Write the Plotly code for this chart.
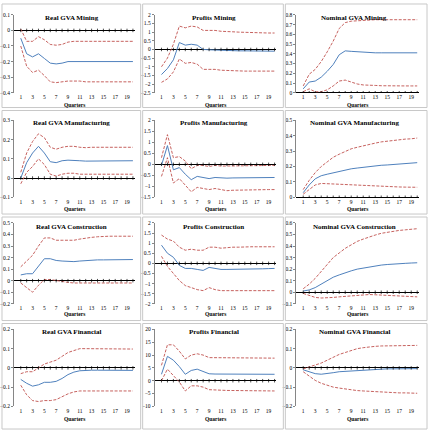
import plotly.graph_objects as go

quarters = list(range(1, 21))

panel_titles = [
    "Real GVA Mining", "Profits Mining", "Nominal GVA Mining",
    "Real GVA Manufacturing", "Profits Manufacturing", "Nominal GVA Manufacturing",
    "Real GVA Construction", "Profits Construction", "Nominal GVA Construction",
    "Real GVA Financial", "Profits Financial", "Nominal GVA Financial",
]
x_axis_title = "Quarters"

# ---- Row 1: Mining ----
real_mining_mean = [-0.05, -0.15, -0.17, -0.15, -0.18, -0.21, -0.215, -0.21, -0.2, -0.2,
                    -0.2, -0.2, -0.2, -0.2, -0.2, -0.2, -0.2, -0.2, -0.2, -0.2]
real_mining_upper = [0.01, -0.07, -0.07, -0.04, -0.06, -0.09, -0.095, -0.09, -0.075, -0.07,
                     -0.07, -0.07, -0.07, -0.07, -0.07, -0.07, -0.07, -0.07, -0.07, -0.07]
real_mining_lower = [-0.1, -0.23, -0.27, -0.255, -0.29, -0.33, -0.335, -0.33, -0.325, -0.325,
                     -0.325, -0.33, -0.33, -0.33, -0.33, -0.33, -0.33, -0.33, -0.33, -0.33]

profits_mining_mean = [-1.45, -1.1, -0.6, 0.4, 0.25, 0.3, 0.25, 0.0, -0.02, -0.04,
                       -0.05, -0.06, -0.07, -0.08, -0.08, -0.09, -0.09, -0.1, -0.1, -0.1]
profits_mining_upper = [-1.0, -0.5, 0.3, 1.35, 1.25, 1.35, 1.3, 1.1, 1.1, 1.1,
                        1.05, 1.05, 1.02, 1.0, 1.0, 0.98, 0.97, 0.96, 0.95, 0.95]
profits_mining_lower = [-1.9, -1.7, -1.3, -0.55, -0.8, -0.75, -0.85, -1.15, -1.15, -1.15,
                        -1.2, -1.22, -1.24, -1.25, -1.25, -1.25, -1.25, -1.25, -1.25, -1.25]

nominal_mining_mean = [0.04, 0.11, 0.12, 0.16, 0.22, 0.29, 0.39, 0.43, 0.425, 0.42,
                       0.42, 0.415, 0.41, 0.41, 0.41, 0.41, 0.41, 0.41, 0.41, 0.41]
nominal_mining_upper = [0.07, 0.19, 0.24, 0.32, 0.42, 0.53, 0.66, 0.72, 0.735, 0.74,
                        0.745, 0.75, 0.75, 0.75, 0.75, 0.75, 0.75, 0.75, 0.75, 0.75]
nominal_mining_lower = [0.01, 0.04, 0.01, 0.01, 0.03, 0.07, 0.12, 0.13, 0.11, 0.09,
                        0.08, 0.08, 0.075, 0.072, 0.07, 0.07, 0.07, 0.07, 0.07, 0.07]

# ---- Row 2: Manufacturing ----
real_manuf_mean = [0.0, 0.08, 0.13, 0.165, 0.13, 0.085, 0.08, 0.09, 0.093, 0.093,
                   0.09, 0.088, 0.088, 0.089, 0.09, 0.09, 0.09, 0.09, 0.09, 0.09]
real_manuf_upper = [0.03, 0.13, 0.19, 0.23, 0.21, 0.16, 0.15, 0.16, 0.165, 0.165,
                    0.16, 0.158, 0.16, 0.16, 0.16, 0.16, 0.16, 0.16, 0.16, 0.16]
real_manuf_lower = [-0.03, 0.03, 0.06, 0.10, 0.07, 0.02, 0.01, 0.02, 0.025, 0.025,
                    0.02, 0.02, 0.02, 0.02, 0.02, 0.02, 0.02, 0.02, 0.02, 0.02]

profits_manuf_mean = [-0.05, 0.85, -0.25, -0.15, -0.45, -0.7, -0.55, -0.6, -0.65, -0.6,
                      -0.63, -0.63, -0.62, -0.62, -0.61, -0.61, -0.6, -0.6, -0.6, -0.6]
profits_manuf_upper = [0.3, 1.35, 0.3, 0.35, 0.15, -0.2, -0.05, -0.05, -0.1, -0.05,
                       -0.08, -0.08, -0.07, -0.06, -0.06, -0.05, -0.05, -0.05, -0.05, -0.05]
profits_manuf_lower = [-0.55, 0.3, -0.85, -0.65, -0.95, -1.25, -1.05, -1.1, -1.15, -1.1,
                       -1.15, -1.2, -1.18, -1.17, -1.16, -1.15, -1.15, -1.15, -1.15, -1.15]

nominal_manuf_mean = [0.03, 0.08, 0.12, 0.14, 0.15, 0.16, 0.17, 0.178, 0.185, 0.19,
                      0.195, 0.2, 0.205, 0.208, 0.21, 0.213, 0.216, 0.219, 0.222, 0.225]
nominal_manuf_upper = [0.05, 0.11, 0.16, 0.2, 0.23, 0.26, 0.28, 0.3, 0.315, 0.325,
                       0.335, 0.345, 0.352, 0.36, 0.365, 0.37, 0.375, 0.378, 0.38, 0.385]
nominal_manuf_lower = [0.02, 0.05, 0.08, 0.09, 0.088, 0.085, 0.082, 0.08, 0.078, 0.076,
                       0.074, 0.072, 0.07, 0.07, 0.069, 0.068, 0.067, 0.066, 0.065, 0.065]

# ---- Row 3: Construction ----
real_constr_mean = [0.05, 0.06, 0.06, 0.13, 0.19, 0.19, 0.175, 0.17, 0.165, 0.165,
                    0.17, 0.175, 0.18, 0.18, 0.18, 0.18, 0.18, 0.182, 0.183, 0.183]
real_constr_upper = [0.12, 0.17, 0.22, 0.3, 0.37, 0.37, 0.35, 0.35, 0.35, 0.35,
                     0.36, 0.37, 0.375, 0.38, 0.385, 0.385, 0.385, 0.385, 0.385, 0.385]
real_constr_lower = [-0.02, -0.06, -0.1, -0.04, 0.01, 0.01, 0.0, -0.01, -0.015, -0.02,
                     -0.02, -0.02, -0.02, -0.02, -0.02, -0.02, -0.02, -0.02, -0.02, -0.02]

profits_constr_mean = [0.9, 0.5, 0.3, -0.1, -0.25, -0.25, -0.3, -0.35, -0.2, -0.25,
                       -0.3, -0.3, -0.3, -0.28, -0.28, -0.27, -0.27, -0.27, -0.26, -0.25]
profits_constr_upper = [1.4, 1.2, 1.1, 0.8, 0.65, 0.7, 0.65, 0.65, 0.8, 0.8,
                        0.75, 0.78, 0.8, 0.8, 0.82, 0.82, 0.82, 0.82, 0.82, 0.82]
profits_constr_lower = [0.35, -0.15, -0.5, -0.85, -1.1, -1.2, -1.3, -1.35, -1.2, -1.3,
                        -1.35, -1.35, -1.35, -1.35, -1.35, -1.35, -1.35, -1.35, -1.35, -1.35]

nominal_constr_mean = [0.01, 0.02, 0.04, 0.07, 0.1, 0.13, 0.15, 0.17, 0.185, 0.2,
                       0.21, 0.22, 0.228, 0.235, 0.24, 0.245, 0.248, 0.25, 0.253, 0.255]
nominal_constr_upper = [0.03, 0.07, 0.12, 0.18, 0.24, 0.3, 0.34, 0.38, 0.41, 0.44,
                        0.46, 0.48, 0.495, 0.51, 0.52, 0.53, 0.535, 0.54, 0.545, 0.55]
nominal_constr_lower = [-0.01, -0.03, -0.045, -0.05, -0.05, -0.045, -0.04, -0.035, -0.03, -0.025,
                        -0.02, -0.02, -0.022, -0.025, -0.03, -0.03, -0.035, -0.035, -0.04, -0.04]

# ---- Row 4: Financial ----
real_fin_mean = [-0.06, -0.08, -0.095, -0.088, -0.075, -0.075, -0.07, -0.055, -0.035, -0.022,
                 -0.015, -0.012, -0.012, -0.012, -0.012, -0.013, -0.013, -0.013, -0.013, -0.013]
real_fin_upper = [-0.03, -0.02, -0.02, 0.0, 0.02, 0.03, 0.04, 0.06, 0.08, 0.09,
                  0.1, 0.1, 0.1, 0.1, 0.1, 0.1, 0.1, 0.1, 0.1, 0.098]
real_fin_lower = [-0.09, -0.14, -0.17, -0.175, -0.17, -0.17, -0.165, -0.15, -0.135, -0.125,
                  -0.12, -0.12, -0.12, -0.12, -0.12, -0.12, -0.12, -0.12, -0.12, -0.12]

profits_fin_mean = [2.5, 9.5, 8.0, 5.5, 2.5, 4.0, 4.5, 3.5, 2.7, 2.6,
                    2.6, 2.6, 2.6, 2.6, 2.5, 2.5, 2.5, 2.5, 2.5, 2.5]
profits_fin_upper = [6.0, 14.0, 14.0, 11.5, 8.5, 10.0, 10.5, 10.0, 9.0, 9.0,
                     9.0, 9.0, 9.0, 9.0, 8.8, 8.8, 8.8, 8.8, 8.8, 8.8]
profits_fin_lower = [0.0, 4.5, 2.0, -0.5, -4.0, -2.0, -2.0, -2.5, -3.5, -3.5,
                     -3.7, -3.8, -3.8, -3.9, -4.0, -4.0, -4.0, -4.0, -4.0, -4.0]

nominal_fin_mean = [-0.01, -0.02, -0.03, -0.033, -0.03, -0.025, -0.02, -0.018, -0.015, -0.012,
                    -0.01, -0.008, -0.007, -0.006, -0.005, -0.005, -0.004, -0.004, -0.004, -0.004]
nominal_fin_upper = [-0.005, 0.005, 0.015, 0.025, 0.04, 0.055, 0.07, 0.08, 0.09, 0.1,
                     0.105, 0.11, 0.112, 0.114, 0.115, 0.116, 0.117, 0.117, 0.117, 0.117]
nominal_fin_lower = [-0.02, -0.045, -0.065, -0.08, -0.09, -0.1, -0.105, -0.11, -0.115, -0.118,
                     -0.12, -0.122, -0.124, -0.126, -0.128, -0.129, -0.13, -0.13, -0.131, -0.132]

# y-axis ranges and tick steps per panel
y_ranges = [
    (-0.4, 0.1, 0.1), (-2.5, 2.0, 0.5), (0.0, 0.8, 0.1),
    (-0.1, 0.3, 0.1), (-1.5, 2.0, 0.5), (0.0, 0.5, 0.1),
    (-0.2, 0.5, 0.1), (-2.0, 2.0, 0.5), (-0.1, 0.6, 0.1),
    (-0.2, 0.2, 0.1), (-10, 20, 5), (-0.2, 0.2, 0.1),
]

series = [
    (real_mining_mean, real_mining_upper, real_mining_lower),
    (profits_mining_mean, profits_mining_upper, profits_mining_lower),
    (nominal_mining_mean, nominal_mining_upper, nominal_mining_lower),
    (real_manuf_mean, real_manuf_upper, real_manuf_lower),
    (profits_manuf_mean, profits_manuf_upper, profits_manuf_lower),
    (nominal_manuf_mean, nominal_manuf_upper, nominal_manuf_lower),
    (real_constr_mean, real_constr_upper, real_constr_lower),
    (profits_constr_mean, profits_constr_upper, profits_constr_lower),
    (nominal_constr_mean, nominal_constr_upper, nominal_constr_lower),
    (real_fin_mean, real_fin_upper, real_fin_lower),
    (profits_fin_mean, profits_fin_upper, profits_fin_lower),
    (nominal_fin_mean, nominal_fin_upper, nominal_fin_lower),
]

# ---- layout geometry (pixels) ----
W, H = 428, 434
col_plot = [(13, 134), (154, 276), (296, 419)]
row_plot = [(12, 91), (119, 197), (223, 305), (331, 409)]
col_panel = [(1, 140), (142, 283), (285, 427)]
row_panel = [(1, 106), (109, 214), (217, 322), (325, 432)]
title_x = [71, 213, 354]
title_y = [15, 122, 227, 334]
quarters_y = [103, 209, 315, 422]

SERIF = "Liberation Serif, Times New Roman, serif"
BLUE = "#4F81BD"
RED = "#C0504D"

fig = go.Figure()
layout = dict(
    width=W, height=H, margin=dict(l=0, r=0, t=0, b=0),
    paper_bgcolor="white", plot_bgcolor="white", showlegend=False,
    font=dict(family=SERIF, color="black"),
)
shapes = []
annotations = []

for i in range(12):
    r, c = divmod(i, 3)
    n = i + 1
    xa = "x" if n == 1 else f"x{n}"
    ya = "y" if n == 1 else f"y{n}"
    mean, upper, lower = series[i]
    ymin, ymax, dt = y_ranges[i]

    fig.add_trace(go.Scatter(x=quarters, y=upper, mode="lines", xaxis=xa, yaxis=ya,
                             line=dict(color=RED, width=0.9, dash="3px,1.5px")))
    fig.add_trace(go.Scatter(x=quarters, y=lower, mode="lines", xaxis=xa, yaxis=ya,
                             line=dict(color=RED, width=0.9, dash="3px,1.5px")))
    fig.add_trace(go.Scatter(x=quarters, y=mean, mode="lines", xaxis=xa, yaxis=ya,
                             line=dict(color=BLUE, width=1)))
    # tick marks on the zero axis
    fig.add_trace(go.Scatter(x=quarters, y=[0] * len(quarters), mode="markers",
                             xaxis=xa, yaxis=ya,
                             marker=dict(symbol="line-ns", size=2.5,
                                         line=dict(color="black", width=0.7))))

    x0, x1 = col_plot[c]
    yt, yb = row_plot[r]
    xkey = "xaxis" if n == 1 else f"xaxis{n}"
    ykey = "yaxis" if n == 1 else f"yaxis{n}"
    layout[xkey] = dict(
        domain=[x0 / W, x1 / W], anchor=ya, range=[-0.15, 20.3],
        tickmode="array", tickvals=quarters[::2], ticktext=[str(q) for q in quarters[::2]],
        showgrid=False, zeroline=False, showline=False, ticks="",
        tickfont=dict(size=5.5, family=SERIF, color="black"), fixedrange=True,
    )
    layout[ykey] = dict(
        domain=[1 - yb / H, 1 - yt / H], anchor=xa, range=[ymin, ymax],
        dtick=dt, tick0=0, showgrid=False,
        zeroline=True, zerolinecolor="black", zerolinewidth=1.4,
        showline=True, linecolor="#868686", linewidth=0.8,
        ticks="outside", ticklen=2, tickcolor="#868686", tickwidth=0.6,
        tickfont=dict(size=5.5, family=SERIF, color="black"), fixedrange=True,
    )

    px0, px1 = col_panel[c]
    py0, py1 = row_panel[r]
    shapes.append(dict(type="rect", xref="paper", yref="paper",
                       x0=px0 / W, x1=px1 / W, y0=1 - py1 / H, y1=1 - py0 / H,
                       line=dict(color="#C8C8C8", width=1), fillcolor="rgba(0,0,0,0)"))

    annotations.append(dict(text=f"<b>{panel_titles[i]}</b>", xref="paper", yref="paper",
                            x=title_x[c] / W, y=1 - title_y[r] / H, showarrow=False,
                            xanchor="center", yanchor="middle",
                            font=dict(size=7, family=SERIF, color="black")))
    annotations.append(dict(text=f"<b>{x_axis_title}</b>", xref="paper", yref="paper",
                            x=((x0 + x1) / 2) / W, y=1 - quarters_y[r] / H, showarrow=False,
                            xanchor="center", yanchor="middle",
                            font=dict(size=5.5, family=SERIF, color="black")))

layout["shapes"] = shapes
layout["annotations"] = annotations
fig.update_layout(**layout)
fig.write_html("out.html", config={"displayModeBar": False})
